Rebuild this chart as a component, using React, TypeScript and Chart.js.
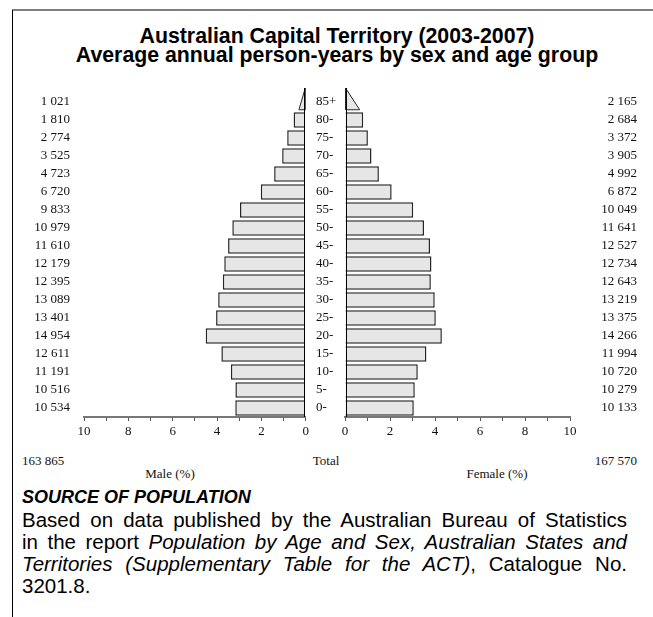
import React, { useEffect, useRef } from "react";
import { Chart, registerables } from "chart.js";

Chart.register(...registerables);

// ---- data (youngest to oldest) ----
const AGE_GROUPS = ["0-", "5-", "10-", "15-", "20-", "25-", "30-", "35-", "40-", "45-", "50-", "55-", "60-", "65-", "70-", "75-", "80-", "85+"];
const MALE_COUNTS = [10534, 10516, 11191, 12611, 14954, 13401, 13089, 12395, 12179, 11610, 10979, 9833, 6720, 4723, 3525, 2774, 1810, 1021];
const FEMALE_COUNTS = [10133, 10279, 10720, 11994, 14266, 13375, 13219, 12643, 12734, 12527, 11641, 10049, 6872, 4992, 3905, 3372, 2684, 2165];
const MALE_TOTAL = 163865;
const FEMALE_TOTAL = 167570;
const AXIS_MIN = 0;
const AXIS_MAX = 10;

const TITLE_LINES = ["Australian Capital Territory (2003-2007)", "Average annual person-years by sex and age group"];

const FILL = "#e6e6e6";
const EDGE = "#262626";
const SERIF = "'Liberation Serif', 'Times New Roman', serif";
const SANS = "'Liberation Sans', Arial, Helvetica, sans-serif";
const TEXT = "#111";

function fmt(n: number): string {
  if (n < 1000) return String(n);
  return Math.floor(n / 1000) + " " + String(n % 1000).padStart(3, "0");
}

const TOP_INDEX = AGE_GROUPS.length - 1;

const wedgePlugin = {
  id: "wedge",
  afterDatasetsDraw(chart: any) {
    const ctx = chart.ctx;
    const meta = chart.getDatasetMeta(0);
    const el = meta.data[TOP_INDEX];
    if (!el) return;
    const p = el.getProps(["x", "y", "base", "height"], true);
    const top = chart.chartArea.top - 5;
    const bottom = p.y + p.height / 2;
    ctx.save();
    ctx.beginPath();
    ctx.moveTo(p.base, top);
    ctx.lineTo(p.x, bottom);
    ctx.lineTo(p.base, bottom);
    ctx.closePath();
    ctx.fillStyle = FILL;
    ctx.fill();
    ctx.lineWidth = 1;
    ctx.strokeStyle = EDGE;
    ctx.stroke();
    const zx = Math.round(p.base) + (chart.options.scales.x.reverse ? -0.5 : 0.5);
    ctx.beginPath();
    ctx.moveTo(zx, top);
    ctx.lineTo(zx, chart.chartArea.bottom);
    ctx.strokeStyle = "#000";
    ctx.lineWidth = 1;
    ctx.stroke();
    ctx.restore();
  },
};

function xScale(reverse: boolean) {
  return {
    type: "linear",
    min: AXIS_MIN,
    max: AXIS_MAX,
    reverse,
    afterFit: (s: any) => {
      s.height = 30;
    },
    border: { display: true, color: "#777", width: 2 },
    grid: { display: true, drawOnChartArea: false, drawTicks: true, tickLength: 4, color: "#555", lineWidth: 1 },
    ticks: {
      stepSize: 1,
      padding: 3,
      color: TEXT,
      font: { family: SERIF, size: 13 },
      maxRotation: 0,
      autoSkip: false,
      callback: (v: any) => (Number(v) % 2 === 0 ? String(v) : ""),
    },
  };
}

function datasetStyle() {
  return {
    backgroundColor: (c: any) => (c.dataIndex === TOP_INDEX ? "rgba(0,0,0,0)" : FILL),
    borderColor: EDGE,
    borderWidth: (c: any) => (c.dataIndex === TOP_INDEX ? 0 : 1.5),
    barPercentage: 0.86,
    categoryPercentage: 1,
  };
}

const SOURCE_LINES: React.ReactNode[] = [
  <>Based on data published by the Australian Bureau of Statistics</>,
  <>in the report <i>Population by Age and Sex, Australian States and</i></>,
  <><i>Territories (Supplementary Table for the ACT)</i>, Catalogue No.</>,
  <>3201.8.</>,
];

export default function App() {
  const maleRef = useRef<HTMLCanvasElement>(null);
  const femaleRef = useRef<HTMLCanvasElement>(null);

  useEffect(() => {
    const grand = MALE_TOTAL + FEMALE_TOTAL;
    const malePct = MALE_COUNTS.map((c) => (c / grand) * 100);
    const femalePct = FEMALE_COUNTS.map((c) => (c / grand) * 100);

    const common = {
      responsive: false,
      animation: false as const,
      indexAxis: "y" as const,
      plugins: { legend: { display: false }, tooltip: { enabled: false }, title: { display: false } },
    };

    const male = new Chart(maleRef.current as HTMLCanvasElement, {
      type: "bar",
      data: {
        labels: AGE_GROUPS,
        datasets: [{ label: "Male", data: malePct, ...datasetStyle() } as any],
      },
      options: {
        ...common,
        layout: { padding: { top: 8, left: 0, right: 4, bottom: 0 } },
        scales: {
          x: xScale(true) as any,
          y: {
            type: "category",
            labels: MALE_COUNTS.map(fmt),
            reverse: true,
            offset: true,
            afterFit: (s: any) => {
              s.width = 72;
              s.paddingTop = 0;
              s.paddingBottom = 0;
            },
            grid: { display: false, drawTicks: false },
            border: { display: false },
            ticks: { padding: 14, color: TEXT, font: { family: SERIF, size: 13 }, autoSkip: false },
          } as any,
        },
      } as any,
      plugins: [wedgePlugin],
    });

    const female = new Chart(femaleRef.current as HTMLCanvasElement, {
      type: "bar",
      data: {
        labels: AGE_GROUPS,
        datasets: [{ label: "Female", data: femalePct, yAxisID: "y", xAxisID: "x", ...datasetStyle() } as any],
      },
      options: {
        ...common,
        layout: { padding: { top: 8, left: 4, right: 16, bottom: 0 } },
        scales: {
          x: xScale(false) as any,
          y: {
            type: "category",
            position: "left",
            reverse: true,
            offset: true,
            afterFit: (s: any) => {
              s.width = 29;
              s.paddingTop = 0;
              s.paddingBottom = 0;
            },
            grid: { display: false, drawTicks: false },
            border: { display: false },
            ticks: { crossAlign: "far", padding: 0, color: TEXT, font: { family: SERIF, size: 13 }, autoSkip: false },
          } as any,
          y2: {
            type: "category",
            position: "right",
            labels: FEMALE_COUNTS.map(fmt),
            reverse: true,
            offset: true,
            afterFit: (s: any) => {
              s.width = 67;
              s.paddingTop = 0;
              s.paddingBottom = 0;
            },
            grid: { display: false, drawTicks: false },
            border: { display: false },
            ticks: { crossAlign: "far", padding: 0, color: TEXT, font: { family: SERIF, size: 13 }, autoSkip: false },
          } as any,
        },
      } as any,
      plugins: [wedgePlugin],
    });

    return () => {
      male.destroy();
      female.destroy();
    };
  }, []);

  const abs = (s: React.CSSProperties): React.CSSProperties => ({ position: "absolute", whiteSpace: "nowrap", ...s });
  const small = { fontFamily: SERIF, fontSize: 13, lineHeight: "16px", color: TEXT };

  return (
    <div style={{ position: "fixed", left: 0, top: 0, width: 653, height: 617, overflow: "hidden", background: "#fff" }}>
      <div style={{ position: "absolute", left: 12, top: 9, width: 700, height: 700, borderTop: "2px solid #808080", borderLeft: "1px solid #000" }} />
      <div style={abs({ left: 12, top: 27, width: 650, textAlign: "center", fontFamily: SANS, fontWeight: "bold", fontSize: 21.3, lineHeight: "19px", color: "#000" })}>
        {TITLE_LINES.map((t) => (
          <div key={t}>{t}</div>
        ))}
      </div>
      <canvas ref={maleRef} width={300} height={362} style={{ position: "absolute", left: 12, top: 85, width: 300, height: 362 }} />
      <canvas ref={femaleRef} width={341} height={362} style={{ position: "absolute", left: 312, top: 85, width: 341, height: 362 }} />
      <div style={abs({ left: 22, top: 453, ...small })}>{fmt(MALE_TOTAL)}</div>
      <div style={abs({ left: 276, width: 100, top: 453, textAlign: "center", ...small })}>Total</div>
      <div style={abs({ left: 537, width: 100, top: 453, textAlign: "right", ...small })}>{fmt(FEMALE_TOTAL)}</div>
      <div style={abs({ left: 120, width: 100, top: 466, textAlign: "center", ...small })}>Male (%)</div>
      <div style={abs({ left: 447, width: 100, top: 466, textAlign: "center", ...small })}>Female (%)</div>
      <div style={abs({ left: 22, top: 486, fontFamily: SANS, fontWeight: "bold", fontStyle: "italic", fontSize: 18, lineHeight: "22px", color: "#000" })}>SOURCE OF POPULATION</div>
      <div style={{ position: "absolute", left: 22, top: 509, width: 605, fontFamily: SANS, fontSize: 20.5, lineHeight: "22px", color: "#000" }}>
        {SOURCE_LINES.map((l, i) => (
          <div
            key={i}
            style={{
              whiteSpace: "nowrap",
              textAlign: i < SOURCE_LINES.length - 1 ? "justify" : "left",
              textAlignLast: i < SOURCE_LINES.length - 1 ? "justify" : "left",
            } as React.CSSProperties}
          >
            {l}
          </div>
        ))}
      </div>
    </div>
  );
}
